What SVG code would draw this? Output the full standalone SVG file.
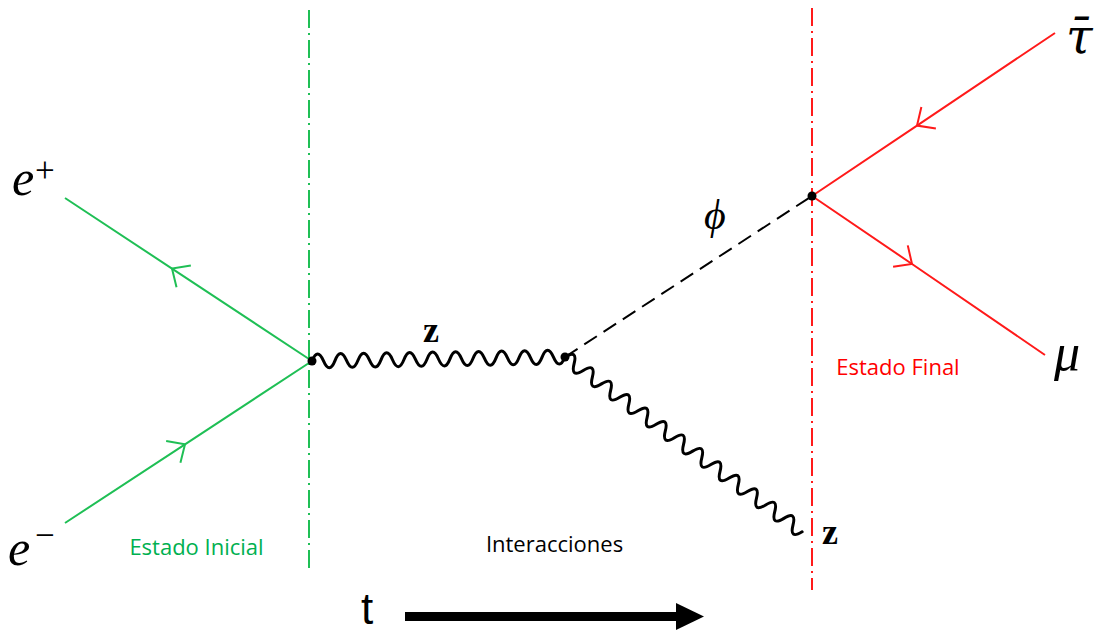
<svg xmlns="http://www.w3.org/2000/svg" width="1099" height="634" viewBox="0 0 1099 634">
<style>
.math{font-family:"Liberation Serif","DejaVu Serif",serif;font-style:italic;fill:#000}
.up{font-family:"Liberation Serif","DejaVu Serif",serif;fill:#000}
.bz{font-family:"Liberation Serif","DejaVu Serif",serif;font-weight:bold;fill:#000;font-size:36px}
.lbl{font-family:"Open Sans",Lato,"Liberation Sans",sans-serif;font-size:22px;text-anchor:middle}
.fg{stroke:#1fbf55;stroke-width:2;fill:none}
.fr{stroke:#ff1a1a;stroke-width:2;fill:none}
.ph{stroke:#000;stroke-width:3;fill:none;stroke-linecap:round}
.vert{stroke-width:2;stroke-dasharray:18 5 2 5;fill:none}
</style>
<defs>
<marker id="ag" markerUnits="userSpaceOnUse" viewBox="-16 -15 18 30" markerWidth="18" markerHeight="30" refX="0" refY="0" orient="auto">
<path d="M-14,-13 L0,0 L-14,13" fill="none" stroke="#1fbf55" stroke-width="2"/>
</marker>
<marker id="ar" markerUnits="userSpaceOnUse" viewBox="-16 -15 18 30" markerWidth="18" markerHeight="30" refX="0" refY="0" orient="auto">
<path d="M-14,-13 L0,0 L-14,13" fill="none" stroke="#ff1a1a" stroke-width="2"/>
</marker>
</defs>
<g id="guides">
<line class="vert" x1="309" y1="10" x2="309" y2="568" stroke="#1fbf55"/>
<line class="vert" x1="812" y1="8" x2="812" y2="590" stroke="#ff1a1a"/>
</g>
<g id="connectors">
<path class="fg" d="M312,361 L172,268.6 L65,198" marker-mid="url(#ag)"/>
<path class="fg" d="M65,523 L185,444.3 L312,361" marker-mid="url(#ag)"/>
<path class="fr" d="M1055,33 L917,125.6 L812,196" marker-mid="url(#ar)"/>
<path class="fr" d="M812,196 L912,264 L1045,355" marker-mid="url(#ar)"/>
<path d="M565,357 L812,196" stroke="#000" stroke-width="2" stroke-dasharray="15 8" fill="none"/>
<path class="ph" transform="translate(312,361) rotate(-0.9)" d="M0,0 q5.75,-14 11.5,0 t11.5,0 t11.5,0 t11.5,0 t11.5,0 t11.5,0 t11.5,0 t11.5,0 t11.5,0 t11.5,0 t11.5,0 t11.5,0 t11.5,0 t11.5,0 t11.5,0 t11.5,0 t11.5,0 t11.5,0 t11.5,0 t11.5,0 t11.5,0 t11.5,0"/>
<path class="ph" transform="translate(565,357) rotate(36.4)" d="M0,0 q5.67,-14 11.33,0 t11.33,0 t11.33,0 t11.33,0 t11.33,0 t11.33,0 t11.33,0 t11.33,0 t11.33,0 t11.33,0 t11.33,0 t11.33,0 t11.33,0 t11.33,0 t11.33,0 t11.33,0 t11.33,0 t11.33,0 t11.33,0 t11.33,0 t11.33,0 t11.33,0 t11.33,0 t11.33,0 t11.33,0 t11.33,0"/>
</g>
<g id="v1"><circle cx="312" cy="361" r="4.5" fill="#000"/></g>
<g id="v2"><circle cx="565" cy="357" r="4.5" fill="#000"/></g>
<g id="v3"><circle cx="812" cy="196" r="4.5" fill="#000"/></g>
<g id="eplus"><text class="math" x="12" y="195" font-size="50">e</text><text class="up" x="35" y="182" font-size="35">+</text></g>
<g id="eminus"><text class="math" x="8" y="565" font-size="50">e</text><text class="up" x="35" y="547" font-size="35">−</text></g>
<g id="taubar"><text x="1066" y="53" font-size="48" font-family="'DejaVu Serif',serif" font-style="italic" fill="#000">τ̄</text></g>
<g id="mu"><text class="math" x="1054" y="370" font-size="52">μ</text></g>
<g id="phi"><text class="math" x="704" y="229" font-size="42">ϕ</text></g>
<g id="z1"><text class="bz" x="423" y="342">z</text></g>
<g id="z2"><text class="bz" x="822" y="544">z</text></g>
<g id="labels">
<text class="lbl" x="196.5" y="555" fill="#00b050">Estado Inicial</text>
<text class="lbl" x="554.5" y="552" fill="#000">Interacciones</text>
<text class="lbl" x="898" y="375" fill="#ff0000">Estado Final</text>
</g>
<g id="time">
<text x="361" y="624" font-family="'Liberation Sans',Arial,sans-serif" font-size="44" fill="#000">t</text>
<rect x="405" y="612" width="274" height="9" fill="#000"/>
<polygon points="676,603 704,616.5 676,630" fill="#000"/>
</g>
</svg>
